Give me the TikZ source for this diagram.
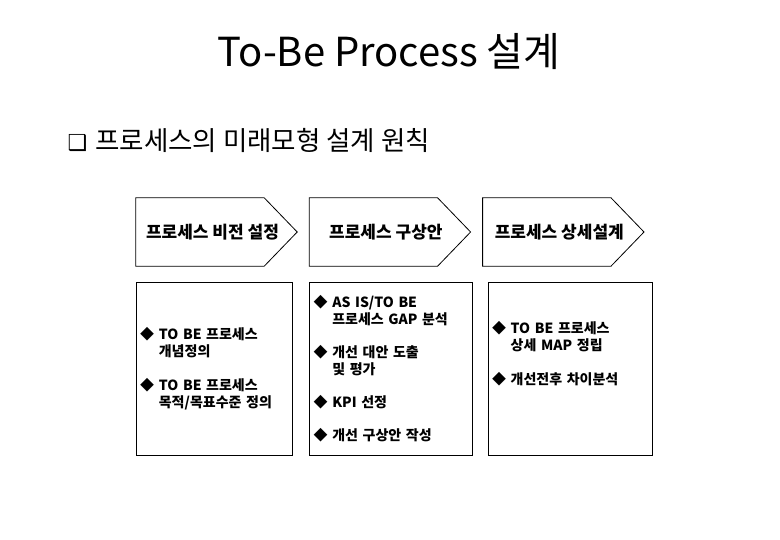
\documentclass[tikz,border=0pt]{standalone}
\usepackage{fontspec}
\setmainfont{Noto Sans CJK KR}
\newfontfamily\symfont{DejaVu Sans}
\usepackage{tikz}
\usetikzlibrary{positioning}

\begin{document}
\begin{tikzpicture}[
        x=1pt, y=-1pt,
        node distance=12pt and 12pt,
        headbox/.style={
            rectangle,
            minimum width=161pt,
            minimum height=68pt,
            inner sep=0pt,
            font=\fontsize{17}{20}\selectfont\bfseries
        },
        listbox/.style={
            rectangle,
            draw=black,
            line width=0.8pt,
            minimum height=173pt,
            inner xsep=4pt,
            align=left,
            font=\fontsize{14}{17}\selectfont\bfseries
        },
        pentagon/.style={draw=black, line width=0.8pt, line join=miter}
    ]

    \useasboundingbox (0,0) rectangle (780,540);

    \node (title) [font=\fontsize{40}{48}\selectfont] at (389,52) {To-Be Process 설계};
    \node (principle) [anchor=west, font=\fontsize{26.5}{30}\selectfont] at (64,140)
        {{\symfont\fontsize{22}{26}\selectfont ❑}\hspace{8pt}프로세스의 미래모형 설계 원칙};

    \node (vision) [headbox] at (216.5,232) {\hspace{-8pt}프로세스 비전 설정};
    \node (concept) [headbox, right=of vision] {\hspace{-8pt}프로세스 구상안};
    \node (detail) [headbox, right=of concept] {\hspace{-8pt}프로세스 상세설계};

    \foreach \n in {vision, concept, detail}
        \draw [pentagon] (\n.north west) -- ([xshift=-33pt]\n.north east) -- (\n.east)
            -- ([xshift=-33pt]\n.south east) -- (\n.south west) -- cycle;

    \node (visionlist) [listbox, minimum width=156pt, text width=148pt,
        below right=16pt and 0pt of vision.south west]
        {◆ TO BE 프로세스\\\phantom{◆ }개념정의\\[17pt]
         ◆ TO BE 프로세스\\\phantom{◆ }목적/목표수준 정의};
    \node (conceptlist) [listbox, minimum width=163pt, text width=155pt,
        below right=16pt and 0pt of concept.south west]
        {◆ AS IS/TO BE\\\phantom{◆ }프로세스 GAP 분석\\[16pt]
         ◆ 개선 대안 도출\\\phantom{◆ }및 평가\\[16pt]
         ◆ KPI 선정\\[16pt]
         ◆ 개선 구상안 작성};
    \node (detaillist) [listbox, minimum width=164pt, text width=156pt,
        below right=16pt and 5pt of detail.south west]
        {◆ TO BE 프로세스\\\phantom{◆ }상세 MAP 정립\\[17pt]
         ◆ 개선전후 차이분석\\[15pt]\mbox{}};

\end{tikzpicture}
\end{document}
